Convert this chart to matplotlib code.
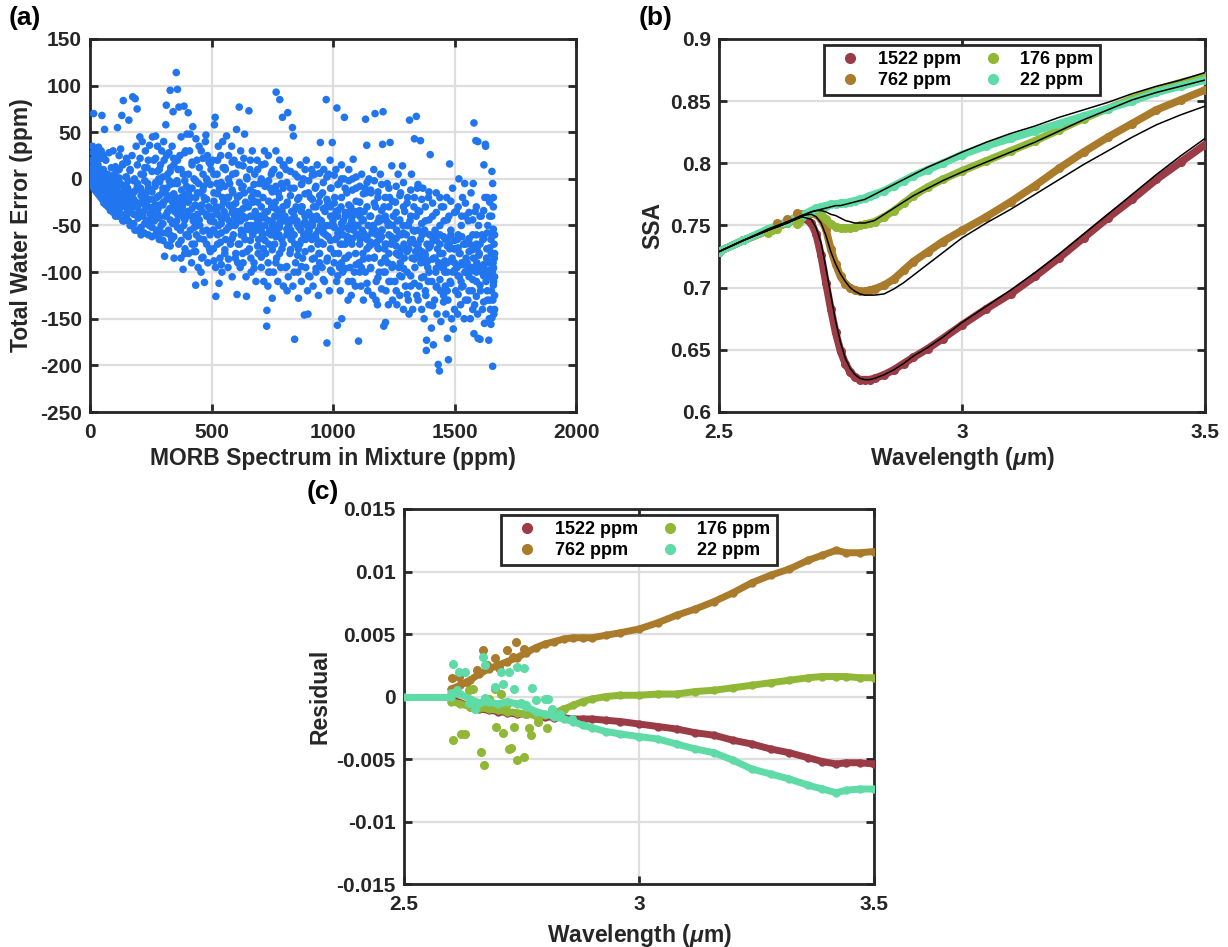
import matplotlib.pyplot as plt
from matplotlib.lines import Line2D

# ---------------- data ----------------
# (a) MORB spectrum in mixture (ppm) vs total water error (ppm)
morb_vs_err = [
    (2, 3), (4, 8), (5, -2), (7, 12), (8, 0), (10, 35), (12, 5), (14, -5), (15, 70), (17, 18), (19, 2), (21, -8),
    (23, 10), (25, 24), (27, -3), (29, 6), (31, -12), (33, 15), (35, 34), (37, 0), (39, -9), (41, 8), (43, -15),
    (45, 22), (47, 4), (49, -6), (3, -4), (18, -10), (26, 14), (44, -2),
    (5, -1), (10, -3), (15, -4), (20, -6), (25, -8), (30, -7), (35, -10), (40, -5), (45, -12), (50, -10), (55, -8),
    (60, -18), (65, -12), (70, -20), (75, -10), (80, -25), (85, -15), (90, -22), (95, -10), (0, 2), (1, 5), (3, 1),
    (6, 4), (9, -6), (11, 1), (13, 10), (16, -1), (22, 3), (28, 0), (34, -4),
    (49, 68), (52, -14), (55, 10), (58, -20), (60, 53), (62, -4), (65, 20), (67, -25), (70, -8), (72, 5), (75, -18),
    (78, 28), (80, -12), (83, 0), (85, -28), (88, 12), (90, -6), (93, -22), (95, 30), (98, -15), (57, 2), (68, -2),
    (87, -32), (97, 4),
    (102, -20), (105, -35), (108, 8), (110, -10), (113, 55), (115, -28), (118, -40), (120, 25), (122, -15), (125, -5),
    (128, -30), (131, 68), (133, -22), (135, 15), (137, 84), (140, -45), (142, -12), (145, -25), (148, 2), (104, -2),
    (116, -18), (126, 32), (138, -8), (146, -38),
    (152, -32), (155, -10), (158, -45), (160, 63), (163, -20), (165, 10), (168, -28), (170, -50), (173, 25), (176, 88),
    (178, -15), (180, -38), (183, 0), (186, 86), (188, -25), (190, 35), (194, 75), (196, -5), (198, -42), (154, 18),
    (167, -18), (185, -55), (192, -30), (157, -2),
    (202, -35), (205, 45), (208, -10), (210, -52), (213, -25), (215, 40), (218, -40), (220, 5), (223, -58), (225, -18),
    (228, 30), (230, -30), (233, -45), (235, 12), (238, -5), (240, -60), (243, -22), (245, 36), (248, -38), (206, 22),
    (217, -15), (232, -28), (244, -50),
    (252, -12), (255, -62), (257, 45), (260, -30), (263, 20), (265, -45), (268, -8), (270, 46), (273, -55), (275, -20),
    (278, 35), (280, -38), (283, 0), (285, -65), (288, -28), (290, 15), (293, -50), (295, 30), (298, -15), (262, -40),
    (277, 8), (287, -3), (296, -58),
    (302, -25), (305, 20), (307, -83), (310, -40), (312, 58), (314, 79), (316, -10), (318, -71), (320, 5), (323, -55),
    (325, 28), (328, -32), (330, -60), (332, 12), (335, -18), (338, 35), (340, -48), (342, 72), (345, -5), (346, -85),
    (348, -35), (303, 40), (326, -2), (336, -65), (344, 22),
    (352, -20), (355, 114), (357, -45), (360, 96), (362, 10), (365, -70), (366, 77), (368, -30), (370, 25), (372, -55),
    (375, 45), (377, -12), (380, -40), (383, -97), (384, 5), (387, 78), (389, -25), (391, -75), (393, 30), (395, -60),
    (397, -8), (399, 48), (358, -2), (374, -85), (386, -50), (330, 95),
    (402, -35), (404, 71), (406, -80), (408, -10), (410, 30), (413, -55), (415, -20), (418, -90), (420, 15), (423, 56),
    (425, -45), (428, 0), (430, -70), (433, -28), (435, -114), (436, 43), (438, -60), (440, 20), (443, -38), (445, -95),
    (447, -5), (449, 35), (412, 48), (427, -78), (442, -15),
    (452, -50), (455, -15), (458, 30), (460, -85), (463, -35), (465, 5), (468, -65), (471, -111), (473, -22), (475, 40),
    (477, 47), (480, -55), (482, -2), (485, -90), (488, -30), (490, 18), (492, -75), (495, -45), (498, 10), (457, -100),
    (467, -8), (483, 25), (494, -60),
    (502, -40), (505, 20), (508, -75), (510, -15), (512, 58), (515, 66), (517, -95), (518, -126), (520, -30), (523, 5),
    (525, -60), (528, 35), (530, -50), (531, -112), (533, -10), (535, -85), (538, 25), (540, -42), (543, -100), (545, -20),
    (548, 12), (506, -55), (522, -5), (537, -68), (546, 40),
    (552, -35), (555, -80), (557, 10), (560, -55), (562, 46), (565, -20), (568, -95), (570, 25), (573, -45), (575, -5),
    (578, -70), (580, -30), (583, 35), (585, -105), (588, -15), (590, -60), (593, 20), (595, -40), (598, -85), (558, -65),
    (572, -28), (587, 5), (597, -50),
    (602, -45), (603, 53), (605, -124), (607, -20), (610, -70), (612, 15), (614, 77), (616, -35), (618, -95), (620, 30),
    (623, -55), (625, -10), (628, -80), (630, -40), (633, 22), (636, 48), (638, -65), (640, -25), (642, -105),
    (644, -126), (646, 0), (648, -50), (608, -90), (622, -60), (635, -15),
    (652, -30), (654, 73), (656, -75), (658, 10), (660, -50), (663, -100), (665, -20), (668, 30), (670, -60), (673, -40),
    (675, -90), (678, 5), (680, -35), (683, -110), (685, -55), (688, 20), (690, -25), (692, -80), (695, -45), (698, -5),
    (662, -85), (676, -15), (694, -65),
    (702, -40), (705, -95), (707, 15), (710, -60), (712, -20), (715, -110), (718, 30), (720, -50), (723, -80), (725, -5),
    (727, -158), (728, -141), (730, -35), (732, -115), (734, 25), (736, -70), (738, -45), (740, -100), (742, -10),
    (745, -60), (748, -30), (750, -128), (713, -75), (733, -90), (746, 5),
    (752, -50), (755, -100), (757, 10), (760, -70), (762, -25), (765, 30), (766, 93), (768, -85), (770, -40), (773, -110),
    (775, -15), (778, -60), (780, 20), (781, 85), (783, -45), (785, -95), (788, -5), (790, -75), (792, 66), (794, -30),
    (796, -115), (798, 15), (764, -55), (777, -35), (789, -65),
    (802, -40), (805, -95), (807, 10), (810, -60), (812, -25), (814, 71), (816, -105), (818, -50), (820, 20), (823, -80),
    (825, -10), (828, -65), (830, -35), (833, 55), (835, -115), (837, 46), (839, -45), (842, -172), (844, 5), (846, -90),
    (848, -30), (811, -120), (826, -55), (843, -70),
    (852, -45), (855, -100), (858, -128), (860, -20), (863, -70), (865, 15), (868, -55), (870, -110), (873, -30),
    (875, -85), (878, 0), (880, -60), (882, -146), (885, -40), (888, -95), (890, 20), (893, -50), (895, -120),
    (897, -145), (899, -15), (857, -75), (872, -5), (887, -65),
    (902, -55), (905, -105), (907, -20), (910, -75), (912, 10), (915, -45), (918, -115), (920, -30), (923, -85), (925, 5),
    (928, -60), (930, -100), (933, -40), (935, 15), (938, -70), (940, -125), (943, -25), (945, -90), (948, 39),
    (949, -50), (913, -65), (927, -10), (942, -80),
    (952, -45), (955, -95), (957, -15), (960, -70), (962, 10), (965, -110), (967, -35), (970, -60), (972, 85),
    (975, -176), (977, -85), (979, -25), (982, 5), (985, -120), (987, -50), (990, -75), (992, -10), (995, -100),
    (997, 39), (998, -40), (958, -55), (973, -30), (988, 20),
    (1002, -50), (1005, -90), (1007, -20), (1010, -65), (1012, 10), (1015, -110), (1016, 76), (1018, -157), (1020, -40),
    (1023, -80), (1025, -5), (1028, -55), (1030, -120), (1033, -30), (1035, 15), (1036, -150), (1038, -70),
    (1040, -100), (1043, -45), (1045, 0), (1047, 66), (1049, -85), (1013, -35), (1027, -95), (1042, -60),
    (1052, -40), (1055, -85), (1057, -15), (1060, -65), (1063, -110), (1065, 10), (1068, -50), (1070, -95), (1073, -30),
    (1075, -125), (1078, -70), (1080, 0), (1083, 21), (1085, -55), (1088, -100), (1090, -35), (1093, -80), (1095, -10),
    (1098, -60), (1062, -130), (1077, -45), (1092, -115),
    (1102, -50), (1105, -174), (1107, -90), (1110, -25), (1112, -65), (1115, -115), (1118, 5), (1120, -45), (1123, -80),
    (1125, -130), (1128, -35), (1130, -60), (1133, -100), (1134, 64), (1136, -15), (1139, 36), (1140, -75), (1143, -120),
    (1145, -50), (1148, 0), (1117, -95), (1132, -10), (1147, -85),
    (1152, -40), (1155, -95), (1157, -15), (1160, -70), (1163, -125), (1165, -50), (1168, 10), (1170, -85), (1173, 70),
    (1175, -30), (1178, -110), (1180, -60), (1183, -135), (1185, -20), (1188, -75), (1190, -100), (1193, -45), (1195, 5),
    (1198, -90), (1162, -55), (1177, -130), (1192, -65),
    (1202, -55), (1204, 37), (1206, 72), (1208, -100), (1209, -158), (1210, -30), (1213, -75), (1216, -154),
    (1218, -120), (1220, -45), (1223, -5), (1225, -90), (1228, -135), (1230, -60), (1233, -20), (1235, 39), (1238, -110),
    (1240, -70), (1242, 14), (1245, -130), (1248, -40), (1214, -85), (1227, -50), (1243, -95),
    (1252, -65), (1255, -110), (1257, -25), (1260, -80), (1263, -135), (1265, -45), (1268, 5), (1270, -95), (1273, -60),
    (1275, -125), (1278, -15), (1280, -75), (1283, -105), (1286, 14), (1288, -50), (1290, -140), (1293, -85),
    (1295, -35), (1298, -115), (1262, -55), (1277, -90), (1292, -70),
    (1302, -60), (1305, -100), (1307, -20), (1310, -130), (1312, -75), (1315, 63), (1317, -45), (1320, -115), (1323, 5),
    (1325, -85), (1328, -140), (1330, -55), (1333, -30), (1335, 43), (1337, -95), (1340, -70), (1343, 67), (1345, -125),
    (1347, -10), (1349, -80), (1313, -145), (1327, -65), (1342, -40),
    (1352, -75), (1355, -115), (1357, -35), (1360, 41), (1362, -90), (1365, -140), (1367, -60), (1370, -10),
    (1373, -105), (1375, -150), (1378, -80), (1380, -45), (1382, -125), (1384, -184), (1385, -173), (1387, -70),
    (1390, -95), (1393, -20), (1395, -135), (1398, -60), (1400, 26), (1363, -85), (1377, -55), (1392, -110),
    (1402, -70), (1405, -160), (1407, -110), (1410, -40), (1413, -178), (1415, -85), (1418, -130), (1420, -55),
    (1423, -100), (1425, -15), (1428, -145), (1430, -75), (1433, -199), (1435, -90), (1438, -206), (1440, -60),
    (1442, -120), (1444, -153), (1446, -30), (1448, -95), (1412, -65), (1427, -115), (1443, -80),
    (1452, -80), (1455, -125), (1457, -45), (1460, -100), (1463, -65), (1465, -145), (1468, -20), (1470, -90),
    (1471, -171), (1473, -130), (1475, -194), (1478, -70), (1480, 16), (1482, -110), (1485, -55), (1488, -150),
    (1490, -85), (1492, -10), (1495, -161), (1497, -75), (1462, -115), (1477, -40), (1493, -100),
    (1502, -75), (1505, -120), (1507, -35), (1510, -95), (1513, -145), (1515, -60), (1518, 0), (1520, -105), (1523, -80),
    (1525, -135), (1528, -50), (1530, -90), (1533, -20), (1535, -115), (1538, -70), (1540, -150), (1543, -100),
    (1545, -40), (1548, -85), (1512, -65), (1527, -110), (1542, -5),
    (1552, -90), (1555, -130), (1557, -45), (1560, -105), (1563, -70), (1565, -150), (1568, -15), (1570, -95),
    (1573, -120), (1575, -60), (1578, -85), (1580, 60), (1580, -166), (1583, -135), (1585, -35), (1588, 41),
    (1590, -110), (1593, -75), (1595, -145), (1596, 40), (1597, -171), (1599, -50), (1562, -100), (1577, -5),
    (1592, -90),
    (1602, -80), (1605, -172), (1607, -120), (1610, -40), (1612, -100), (1615, -140), (1617, -65), (1620, -95),
    (1621, 15), (1623, -155), (1625, -20), (1627, 37), (1628, 35), (1630, -110), (1633, -75), (1635, -130), (1637, -50),
    (1640, -90), (1641, -173), (1643, -150), (1645, -25), (1647, -105), (1613, -60), (1632, -85), (1648, -140),
    (1650, -156), (1651, -80), (1652, -120), (1653, -40), (1654, 8), (1654, -149), (1655, -100), (1656, -60),
    (1657, -201), (1658, -130), (1659, -90), (1660, -20), (1661, -110), (1662, -145), (1663, -70), (1664, -85),
    (1665, -125), (1657, -5),
    # dense core of the cloud
    (20, -5), (40, -12), (60, -15), (80, -20), (100, -12), (120, -22), (140, -18), (160, -25), (180, -22), (200, -28),
    (220, -24), (240, -30), (260, -22), (280, -32), (300, -28), (320, -35), (340, -25), (360, -38), (380, -30),
    (400, -40), (420, -32), (440, -42), (460, -28), (480, -38), (500, -45), (520, -35), (540, -48), (560, -40),
    (580, -50), (600, -35), (620, -45), (640, -42), (660, -55), (680, -38), (700, -50), (720, -42), (740, -55),
    (760, -40), (780, -52), (800, -45), (820, -58), (840, -40), (860, -52), (880, -48), (900, -60), (920, -45),
    (940, -55), (960, -50), (980, -62), (1000, -45), (1020, -58), (1040, -52), (1060, -62), (1080, -48), (1100, -60),
    (1120, -55), (1140, -65), (1160, -58), (1180, -68), (1200, -55), (1220, -70), (1240, -62), (1260, -72), (1280, -60),
    (1300, -75), (1320, -68), (1340, -78), (1360, -65), (1380, -82), (1400, -72), (1420, -85), (1440, -70),
    (1460, -88), (1480, -75), (1500, -90), (1520, -80), (1540, -92), (1560, -78), (1580, -95), (1600, -82),
    (1620, -92), (1640, -88), (1660, -95),
    (30, 2), (70, -5), (110, -30), (150, -8), (190, -12), (230, -15), (270, -40), (310, -15), (350, -48), (390, -18),
    (430, -52), (470, -20), (510, -55), (550, -25), (590, -28), (630, -60), (670, -25), (710, -62), (750, -30),
    (790, -35), (830, -65), (870, -35), (910, -40), (950, -68), (990, -30), (1030, -70), (1070, -35), (1110, -40),
    (1150, -72), (1190, -42), (1230, -48), (1270, -82), (1310, -50), (1350, -55), (1390, -88), (1430, -60),
    (1470, -65), (1510, -95), (1550, -68), (1590, -70), (1630, -100), (1650, -65),
    (3, -2), (6, -5), (9, 2), (12, -8), (15, 0), (18, -3), (21, -12), (24, -2), (27, -14), (30, -4), (33, -16),
    (36, -6), (39, -18), (42, -8), (45, -20), (48, -3), (51, -22), (54, -12), (57, -26), (60, -6), (63, -15),
    (66, -28), (69, -10), (72, -22), (75, -30), (78, -5), (81, -16), (84, -34), (87, -10), (90, -30), (93, -18),
    (96, -36), (99, -25), (8, 20), (14, 28), (20, 32), (30, 22), (38, 28), (46, 30), (55, 25),
    (105, 13), (105, -7), (105, -29), (105, -40), (120, 1), (120, -21), (120, -35), (120, 10),
    (135, 16), (135, -7), (135, -27), (135, -45), (150, 2), (150, -20), (150, -40), (150, 22),
    (165, 9), (165, -15), (165, -35), (165, -50), (180, -2), (180, -14), (180, -30), (180, -48),
    (195, 15), (195, -8), (195, -26), (195, -55), (210, 5), (210, -18), (210, -38), (210, -60),
    (225, 12), (225, -2), (225, -34), (225, -48), (240, 20), (240, -10), (240, -22), (240, -45),
    (255, 8), (255, -14), (255, -36), (255, -52), (270, 22), (270, -4), (270, -28), (270, -60),
    (285, 10), (285, -18), (285, -42), (285, -55), (300, 2), (300, -10), (300, -48), (300, -66),
    (315, 25), (315, -22), (315, -38), (315, -58), (330, 8), (330, -6), (330, -44), (330, -72),
    (345, 15), (345, -16), (345, -30), (345, -62), (360, -5), (360, -24), (360, -52), (360, 20),
    (375, 10), (375, -20), (375, -34), (375, -66), (390, 28), (390, -2), (390, -44), (390, -80),
    (405, 5), (405, -15), (405, -25), (405, -62), (420, 18), (420, -10), (420, -40), (420, -70),
    (435, -2), (435, -20), (435, -50), (435, -78), (450, 12), (450, -30), (450, -44), (450, -64),
    (465, 22), (465, -12), (465, -56), (465, -84), (480, 0), (480, -22), (480, -40), (480, -70),
    (495, 16), (495, -6), (495, -32), (495, -78), (510, 5), (510, -24), (510, -46), (510, -88),
    (525, 20), (525, -16), (525, -38), (525, -70), (540, -4), (540, -30), (540, -58), (540, -92),
    (555, 12), (555, -8), (555, -42), (555, -76), (570, 0), (570, -20), (570, -52), (570, -86),
    (585, 18), (585, -12), (585, -36), (585, -64), (600, 6), (600, -26), (600, -48), (600, -80),
    (615, -4), (615, -18), (615, -40), (615, -70), (630, 14), (630, -8), (630, -32), (630, -90),
    (645, 2), (645, -30), (645, -54), (645, -78), (660, 20), (660, -12), (660, -40), (660, -66),
    (675, -6), (675, -24), (675, -50), (675, -96), (690, 10), (690, -16), (690, -44), (690, -72),
    (705, 0), (705, -30), (705, -56), (705, -84), (720, 16), (720, -8), (720, -36), (720, -66),
    (735, -2), (735, -24), (735, -58), (735, -100), (750, 8), (750, -14), (750, -46), (750, -76),
    (765, -8), (765, -32), (765, -62), (765, -90), (780, 4), (780, -20), (780, -48), (780, -80),
    (795, 14), (795, -10), (795, -40), (795, -70), (810, -4), (810, -28), (810, -54), (810, -94),
    (825, 8), (825, -18), (825, -44), (825, -76), (840, -10), (840, -34), (840, -60), (840, -100),
    (855, 2), (855, -22), (855, -50), (855, -82), (870, -6), (870, -30), (870, -66), (870, -94),
    (885, 10), (885, -16), (885, -46), (885, -78), (900, -2), (900, -36), (900, -56), (900, -104),
    (915, 4), (915, -22), (915, -50), (915, -86), (930, -8), (930, -30), (930, -64), (930, -96),
    (945, 6), (945, -18), (945, -44), (945, -80), (960, -4), (960, -32), (960, -58), (960, -108),
    (975, 2), (975, -22), (975, -50), (975, -88), (990, -10), (990, -40), (990, -66), (990, -98),
    (1005, 4), (1005, -26), (1005, -52), (1005, -80), (1020, -6), (1020, -34), (1020, -62), (1020, -104),
    (1035, 0), (1035, -20), (1035, -48), (1035, -90), (1050, -10), (1050, -36), (1050, -70), (1050, -96),
    (1065, -2), (1065, -28), (1065, -54), (1065, -82), (1080, -12), (1080, -40), (1080, -64), (1080, -110),
    (1095, 2), (1095, -24), (1095, -50), (1095, -92), (1110, -8), (1110, -34), (1110, -70), (1110, -100),
    (1125, -16), (1125, -44), (1125, -58), (1125, -86), (1140, -4), (1140, -30), (1140, -62), (1140, -112),
    (1155, -12), (1155, -40), (1155, -68), (1155, -96), (1170, -2), (1170, -26), (1170, -54), (1170, -84),
    (1185, -14), (1185, -46), (1185, -74), (1185, -106), (1200, -6), (1200, -34), (1200, -62), (1200, -118),
    (1215, -20), (1215, -40), (1215, -70), (1215, -100), (1230, -10), (1230, -30), (1230, -80), (1230, -110),
    (1245, -24), (1245, -50), (1245, -66), (1245, -92), (1260, -8), (1260, -36), (1260, -64), (1260, -120),
    (1275, -18), (1275, -44), (1275, -80), (1275, -104), (1290, -4), (1290, -30), (1290, -58), (1290, -96),
    (1305, -26), (1305, -50), (1305, -78), (1305, -124), (1320, -12), (1320, -40), (1320, -66), (1320, -104),
    (1335, -20), (1335, -56), (1335, -86), (1335, -112), (1350, -6), (1350, -34), (1350, -70), (1350, -130),
    (1365, -22), (1365, -48), (1365, -78), (1365, -106), (1380, -30), (1380, -58), (1380, -90), (1380, -120),
    (1395, -14), (1395, -44), (1395, -74), (1395, -100), (1410, -26), (1410, -60), (1410, -86), (1410, -136),
    (1425, -36), (1425, -66), (1425, -96), (1425, -116), (1440, -20), (1440, -50), (1440, -80), (1440, -108),
    (1455, -30), (1455, -62), (1455, -94), (1455, -132), (1470, -44), (1470, -72), (1470, -100), (1470, -120),
    (1485, -24), (1485, -60), (1485, -88), (1485, -112), (1500, -36), (1500, -66), (1500, -98), (1500, -140),
    (1515, -30), (1515, -74), (1515, -104), (1515, -124), (1530, -40), (1530, -62), (1530, -92), (1530, -116),
    (1545, -26), (1545, -70), (1545, -100), (1545, -130), (1560, -36), (1560, -64), (1560, -96), (1560, -120),
    (1575, -44), (1575, -76), (1575, -108), (1575, -140), (1590, -30), (1590, -60), (1590, -100), (1590, -126),
    (1605, -40), (1605, -70), (1605, -96), (1605, -114), (1620, -34), (1620, -64), (1620, -104), (1620, -132),
    (1635, -20), (1635, -58), (1635, -88), (1635, -120), (1645, -40), (1645, -74), (1645, -98), (1645, -130),
    (1660, -30), (1660, -54), (1660, -96), (1660, -114), (1665, -80), (1665, -105), (1665, -60), (1665, -140),
]
morb_ppm = [p[0] for p in morb_vs_err]
water_err = [p[1] for p in morb_vs_err]

# (b) single scattering albedo vs wavelength (um)
wl_b = [2.50, 2.55, 2.60, 2.64, 2.67, 2.69, 2.70, 2.71, 2.72, 2.73, 2.74, 2.75, 2.76, 2.77, 2.78, 2.79, 2.80, 2.81,
        2.82, 2.84, 2.86, 2.88, 2.90, 2.93, 2.96, 3.00, 3.05, 3.10, 3.15, 3.20, 3.25, 3.30, 3.35, 3.40, 3.45, 3.50]
ssa_1522 = [0.729, 0.738, 0.746, 0.752, 0.757, 0.752, 0.743, 0.726, 0.704, 0.683, 0.664, 0.649, 0.639, 0.632, 0.628,
            0.626, 0.626, 0.626, 0.627, 0.630, 0.634, 0.639, 0.644, 0.651, 0.659, 0.670, 0.683, 0.695, 0.709, 0.724,
            0.740, 0.756, 0.771, 0.787, 0.801, 0.815]
ssa_762 = [0.729, 0.738, 0.746, 0.753, 0.759, 0.760, 0.759, 0.755, 0.747, 0.731, 0.719, 0.709, 0.703, 0.700, 0.698,
           0.697, 0.697, 0.698, 0.699, 0.702, 0.707, 0.714, 0.721, 0.729, 0.737, 0.746, 0.757, 0.769, 0.782, 0.796,
           0.809, 0.821, 0.832, 0.843, 0.851, 0.859]
ssa_176 = [0.729, 0.738, 0.746, 0.752, 0.757, 0.761, 0.761, 0.759, 0.755, 0.751, 0.749, 0.748, 0.748, 0.748, 0.749,
           0.750, 0.751, 0.752, 0.753, 0.757, 0.762, 0.768, 0.774, 0.781, 0.787, 0.794, 0.802, 0.810, 0.818, 0.827,
           0.836, 0.844, 0.852, 0.859, 0.865, 0.870]
ssa_22 = [0.729, 0.738, 0.747, 0.753, 0.758, 0.762, 0.764, 0.765, 0.766, 0.767, 0.767, 0.768, 0.768, 0.769, 0.770,
          0.771, 0.772, 0.774, 0.775, 0.778, 0.782, 0.786, 0.790, 0.795, 0.800, 0.807, 0.814, 0.820, 0.826, 0.832,
          0.838, 0.844, 0.850, 0.857, 0.862, 0.867]
fit_1522 = [0.729, 0.738, 0.746, 0.752, 0.757, 0.755, 0.748, 0.736, 0.716, 0.694, 0.673, 0.656, 0.643, 0.635, 0.630,
            0.627, 0.626, 0.626, 0.627, 0.630, 0.634, 0.639, 0.645, 0.652, 0.660, 0.672, 0.685, 0.698, 0.712, 0.727,
            0.743, 0.759, 0.775, 0.791, 0.806, 0.820]
fit_762 = [0.729, 0.738, 0.746, 0.752, 0.758, 0.759, 0.757, 0.752, 0.742, 0.729, 0.719, 0.711, 0.705, 0.700, 0.697,
           0.695, 0.694, 0.694, 0.694, 0.695, 0.699, 0.704, 0.710, 0.719, 0.728, 0.740, 0.752, 0.763, 0.775, 0.787,
           0.799, 0.810, 0.821, 0.831, 0.839, 0.846]
fit_176 = [0.729, 0.738, 0.746, 0.752, 0.757, 0.761, 0.762, 0.762, 0.761, 0.759, 0.758, 0.756, 0.754, 0.753, 0.752,
           0.752, 0.752, 0.753, 0.754, 0.759, 0.764, 0.769, 0.774, 0.780, 0.786, 0.793, 0.801, 0.809, 0.817, 0.826,
           0.835, 0.843, 0.851, 0.857, 0.862, 0.867]
fit_22 = [0.729, 0.738, 0.747, 0.753, 0.758, 0.761, 0.762, 0.763, 0.764, 0.765, 0.766, 0.766, 0.767, 0.768, 0.769,
          0.770, 0.771, 0.773, 0.775, 0.779, 0.783, 0.787, 0.791, 0.797, 0.802, 0.809, 0.817, 0.824, 0.830, 0.837,
          0.843, 0.849, 0.856, 0.862, 0.867, 0.873]
# stray measured points at the short-wavelength end
extra_wl_176 = [2.60, 2.61, 2.62, 2.66, 2.665]
extra_ssa_176 = [0.744, 0.746, 0.747, 0.751, 0.753]
extra_wl_762 = [2.62, 2.64, 2.66]
extra_ssa_762 = [0.752, 0.755, 0.760]

# (c) residuals
wl_c = [2.60, 2.62, 2.64, 2.66, 2.68, 2.70, 2.72, 2.74, 2.76, 2.78, 2.80, 2.82, 2.84, 2.86, 2.88, 2.90, 2.93, 2.96,
        3.00, 3.04, 3.08, 3.12, 3.16, 3.20, 3.24, 3.28, 3.32, 3.36, 3.39, 3.42, 3.44, 3.47, 3.50]
res_1522 = [-0.0002, -0.0005, -0.0008, -0.0010, -0.0011, -0.0012, -0.0013, -0.0014, -0.0014, -0.0015, -0.0016,
            -0.0017, -0.0017, -0.0018, -0.0018, -0.0018, -0.0019, -0.0020, -0.0022, -0.0024, -0.0026, -0.0029,
            -0.0031, -0.0035, -0.0038, -0.0042, -0.0045, -0.0049, -0.0052, -0.0054, -0.0053, -0.0053, -0.0054]
res_762 = [0.0006, 0.0009, 0.0013, 0.0018, 0.0022, 0.0025, 0.0028, 0.0031, 0.0035, 0.0039, 0.0042, 0.0044, 0.0046,
           0.0047, 0.0047, 0.0047, 0.0049, 0.0051, 0.0054, 0.0059, 0.0065, 0.0070, 0.0076, 0.0083, 0.0091, 0.0097,
           0.0102, 0.0109, 0.0113, 0.0117, 0.0115, 0.0115, 0.0116]
res_176 = [-0.0004, -0.0006, -0.0008, -0.0009, -0.0010, -0.0011, -0.0012, -0.0013, -0.0014, -0.0015, -0.0015,
           -0.0013, -0.0010, -0.0007, -0.0004, -0.0002, 0.0000, 0.0001, 0.0001, 0.0002, 0.0002, 0.0004, 0.0005,
           0.0007, 0.0009, 0.0011, 0.0013, 0.0015, 0.0016, 0.0016, 0.0016, 0.0015, 0.0015]
res_22 = [0.0003, 0.0002, -0.0002, -0.0005, -0.0004, -0.0006, -0.0004, -0.0006, -0.0008, -0.0012, -0.0014, -0.0016,
          -0.0018, -0.0020, -0.0023, -0.0025, -0.0028, -0.0030, -0.0032, -0.0034, -0.0038, -0.0042, -0.0045, -0.0051,
          -0.0058, -0.0062, -0.0066, -0.0071, -0.0074, -0.0077, -0.0075, -0.0074, -0.0074]
wl_c_flat = [2.50, 2.60]
res_22_flat = [0.0, 0.0]
scat_wl_762 = [2.603, 2.618, 2.634, 2.655, 2.668, 2.676, 2.693, 2.702, 2.719, 2.731, 2.738, 2.756]
scat_res_762 = [0.0015, 0.0016, 0.0012, 0.0021, 0.0037, 0.0025, 0.0031, 0.0023, 0.0037, 0.0032, 0.0044, 0.0038]
scat_wl_176 = [2.605, 2.622, 2.630, 2.664, 2.670, 2.695, 2.710, 2.723, 2.727, 2.735, 2.740, 2.755, 2.765, 2.771,
               2.786, 2.805, 2.647, 2.693, 2.706, 2.681, 2.719, 2.760, 2.786, 2.820, 2.840, 2.639, 2.702]
scat_res_176 = [-0.0035, -0.0030, -0.0030, -0.0044, -0.0055, -0.0024, -0.0029, -0.0042, -0.0041, -0.0024, -0.0051,
                -0.0048, -0.0025, -0.0031, -0.0020, -0.0025, 0.0006, 0.0006, 0.0002, -0.0002, -0.0006, -0.0014,
                -0.0017, -0.0015, -0.0010, 0.0005, -0.0009]
scat_wl_22 = [2.605, 2.618, 2.630, 2.668, 2.672, 2.706, 2.723, 2.740, 2.756, 2.693, 2.710, 2.735, 2.772, 2.800,
              2.807, 2.613, 2.639, 2.650, 2.672, 2.748, 2.760, 2.781, 2.815, 2.832, 2.857]
scat_res_22 = [0.0026, 0.0020, 0.0020, 0.0032, 0.0025, 0.0020, 0.0020, 0.0024, 0.0023, 0.0008, 0.0010, 0.0006,
               0.0007, -0.0002, -0.0002, 0.0005, -0.0005, -0.0010, -0.0001, -0.0005, -0.0007, -0.0003, -0.0010,
               -0.0014, -0.0018]

legend_labels = ['1522 ppm', '762 ppm', '176 ppm', '22 ppm']
a_xticks = [0, 500, 1000, 1500, 2000]
a_yticks = [-250, -200, -150, -100, -50, 0, 50, 100, 150]
b_yticks = [0.6, 0.65, 0.7, 0.75, 0.8, 0.85, 0.9]
b_yticklabels = ['0.6', '0.65', '0.7', '0.75', '0.8', '0.85', '0.9']
wl_ticks = [2.5, 3, 3.5]
wl_ticklabels = ['2.5', '3', '3.5']
c_yticks = [-0.015, -0.01, -0.005, 0, 0.005, 0.01, 0.015]
c_yticklabels = ['-0.015', '-0.01', '-0.005', '0', '0.005', '0.01', '0.015']

# ---------------- style ----------------
plt.rcParams['font.family'] = ['Liberation Sans', 'DejaVu Sans']
plt.rcParams['font.weight'] = 'bold'
plt.rcParams['mathtext.fontset'] = 'custom'
plt.rcParams['mathtext.it'] = 'Liberation Sans:italic'
plt.rcParams['mathtext.rm'] = 'Liberation Sans:bold'

dark = '#262626'
blue = '#2176f0'
colors = ['#9a3b46', '#a97b2b', '#90b735', '#5edba6']
TICK_FS = 15
LABEL_FS = 16.5


def matlab_axes(ax):
    for s in ax.spines.values():
        s.set_linewidth(2.0)
        s.set_color(dark)
    ax.tick_params(direction='in', length=6, width=2, top=True, right=True,
                   labelsize=TICK_FS, colors=dark, pad=6)
    ax.tick_params(axis='x', pad=8)
    ax.grid(True, color='#dedede', lw=1.6)
    ax.set_axisbelow(True)


def add_legend(ax):
    handles = [Line2D([], [], ls='none', marker='o', ms=7, color=c) for c in colors]
    leg = ax.legend(handles, legend_labels, ncol=2, loc='upper center', bbox_to_anchor=(0.5, 0.984),
                    borderaxespad=0, fancybox=False, framealpha=1, edgecolor=dark, fontsize=13,
                    handlelength=2.2, handletextpad=0.4, columnspacing=0.7, borderpad=0.35,
                    labelspacing=0.2)
    leg.get_frame().set_linewidth(2)


def set_labels(ax, xlabel, ylabel, xlab_y, ylab_x):
    ax.set_xlabel(xlabel, fontsize=LABEL_FS, weight='bold', color=dark)
    ax.set_ylabel(ylabel, fontsize=LABEL_FS, weight='bold', color=dark)
    ax.xaxis.set_label_coords(0.5, xlab_y)
    ax.xaxis.label.set_verticalalignment('center')
    ax.yaxis.set_label_coords(ylab_x, 0.5)
    ax.yaxis.label.set_verticalalignment('center')


W, H = 1228, 947
fig = plt.figure(figsize=(W / 100, H / 100), dpi=100)


def px_axes(l, t, r, b):
    return fig.add_axes([l / W, 1 - b / H, (r - l) / W, (b - t) / H])


# ---------------- (a) ----------------
ax1 = px_axes(90, 39, 576, 412)
ax1.scatter(morb_ppm, water_err, s=30, color=blue, edgecolors='none', zorder=3)
ax1.set_xlim(0, 2000)
ax1.set_ylim(-250, 150)
ax1.set_xticks(a_xticks)
ax1.set_yticks(a_yticks)
ax1.set_yticklabels([str(v) for v in a_yticks])
matlab_axes(ax1)
set_labels(ax1, 'MORB Spectrum in Mixture (ppm)', 'Total Water Error (ppm)', -0.125, -0.14)

# ---------------- (b) ----------------
ax2 = px_axes(719, 39, 1205, 412)
for ssa, c in zip([ssa_1522, ssa_762, ssa_176, ssa_22], colors):
    ax2.plot(wl_b, ssa, color=c, lw=5.5, marker='o', ms=5.5, solid_capstyle='round', zorder=3)
ax2.plot(extra_wl_176, extra_ssa_176, ls='none', marker='o', ms=5.5, color=colors[2], zorder=3)
ax2.plot(extra_wl_762, extra_ssa_762, ls='none', marker='o', ms=5.5, color=colors[1], zorder=3)
for fit in [fit_1522, fit_762, fit_176, fit_22]:
    ax2.plot(wl_b, fit, color='black', lw=1.1, zorder=4)
ax2.set_xlim(2.5, 3.5)
ax2.set_ylim(0.6, 0.9)
ax2.set_xticks(wl_ticks)
ax2.set_xticklabels(wl_ticklabels)
ax2.set_yticks(b_yticks)
ax2.set_yticklabels(b_yticklabels)
matlab_axes(ax2)
set_labels(ax2, r'Wavelength ($\mu$m)', 'SSA', -0.125, -0.136)
add_legend(ax2)

# ---------------- (c) ----------------
ax3 = px_axes(404, 509, 874, 884)
for res, c in zip([res_1522, res_762, res_176], colors[:3]):
    ax3.plot(wl_c, res, color=c, lw=5, marker='o', ms=5, solid_capstyle='round', zorder=3)
ax3.plot(scat_wl_762, scat_res_762, ls='none', marker='o', ms=5.5, color=colors[1], zorder=3)
ax3.plot(scat_wl_176, scat_res_176, ls='none', marker='o', ms=5.5, color=colors[2], zorder=3)
ax3.plot(wl_c, res_22, color=colors[3], lw=5, marker='o', ms=5, solid_capstyle='round', zorder=3)
ax3.plot(wl_c_flat, res_22_flat, color=colors[3], lw=5, marker='o', ms=5, solid_capstyle='round', zorder=3)
ax3.plot(scat_wl_22, scat_res_22, ls='none', marker='o', ms=5.5, color=colors[3], zorder=3)
ax3.set_xlim(2.5, 3.5)
ax3.set_ylim(-0.015, 0.015)
ax3.set_xticks(wl_ticks)
ax3.set_xticklabels(wl_ticklabels)
ax3.set_yticks(c_yticks)
ax3.set_yticklabels(c_yticklabels)
matlab_axes(ax3)
set_labels(ax3, r'Wavelength ($\mu$m)', 'Residual', -0.136, -0.178)
add_legend(ax3)

# panel letters
fig.text(25 / W, 1 - 18 / H, '(a)', ha='center', va='center', fontsize=19, weight='bold')
fig.text(656 / W, 1 - 18 / H, '(b)', ha='center', va='center', fontsize=19, weight='bold')
fig.text(323 / W, 1 - 492 / H, '(c)', ha='center', va='center', fontsize=19, weight='bold')

fig.savefig('out.png', dpi=100)
